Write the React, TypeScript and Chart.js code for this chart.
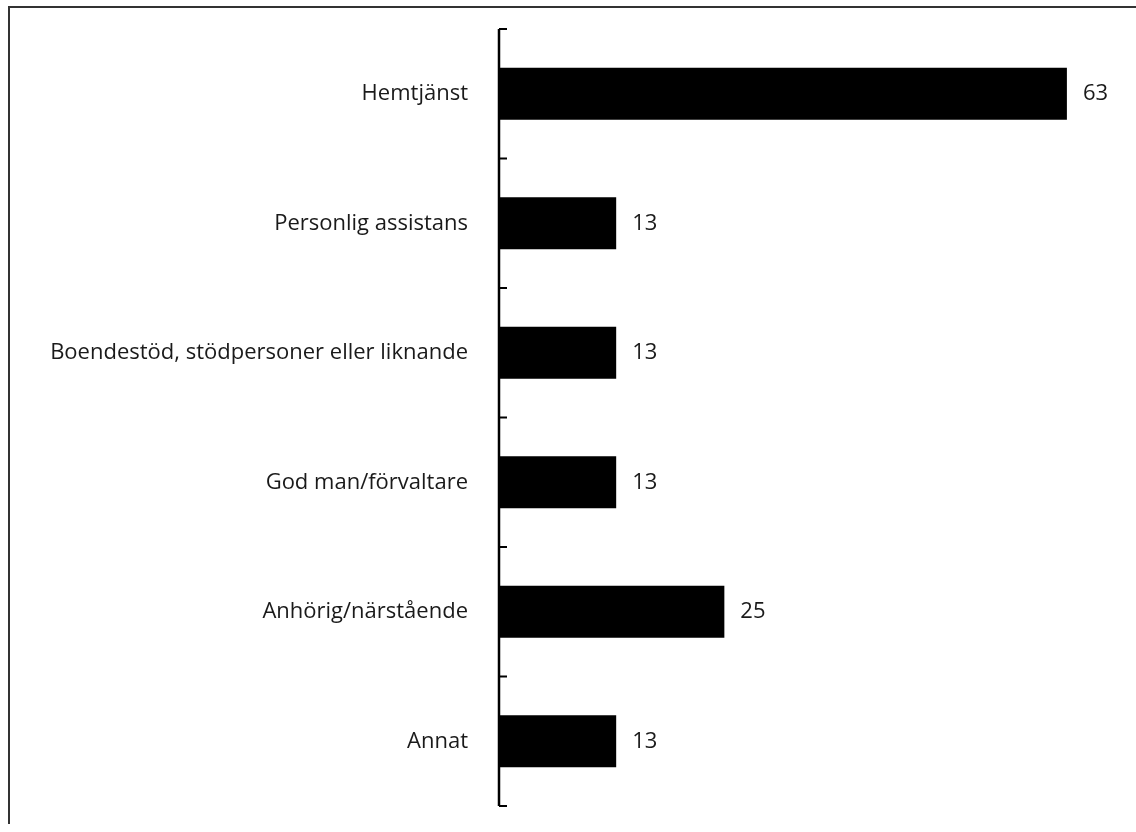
import React, { useEffect, useRef } from "react";
import { Chart, registerables } from "chart.js";

Chart.register(...registerables);

const categories = [
  "Hemtjänst",
  "Personlig assistans",
  "Boendestöd, stödpersoner eller liknande",
  "God man/förvaltare",
  "Anhörig/närstående",
  "Annat",
];
const values = [63, 13, 13, 13, 25, 13];
const xMin = 0;
const xMax = 70;

const FONT = "'Open Sans', 'Noto Sans', sans-serif";

const axisPlugin = {
  id: "customAxis",
  afterDraw(chart: any) {
    const ctx = chart.ctx;
    const y = chart.scales.y;
    const area = chart.chartArea;
    const n = categories.length;
    const step = n > 1 ? y.getPixelForValue(1) - y.getPixelForValue(0) : area.bottom - area.top;
    ctx.save();
    ctx.strokeStyle = "#000";
    ctx.lineWidth = 2.5;
    ctx.beginPath();
    ctx.moveTo(area.left, area.top);
    ctx.lineTo(area.left, area.bottom);
    ctx.stroke();
    ctx.lineWidth = 2;
    for (let i = 0; i <= n; i++) {
      const py = y.getPixelForValue(0) - step / 2 + i * step;
      ctx.beginPath();
      ctx.moveTo(area.left, py);
      ctx.lineTo(area.left + 8, py);
      ctx.stroke();
    }
    const meta = chart.getDatasetMeta(0);
    ctx.fillStyle = "#1a1a1a";
    ctx.font = `22px ${FONT}`;
    ctx.textAlign = "left";
    ctx.textBaseline = "middle";
    meta.data.forEach((el: any, i: number) => {
      ctx.fillText(String(values[i]), el.x + 16, el.y);
    });
    ctx.restore();
  },
};

export default function App() {
  const ref = useRef<HTMLCanvasElement | null>(null);
  useEffect(() => {
    if (!ref.current) return;
    const chart = new Chart(ref.current, {
      type: "bar",
      data: {
        labels: categories,
        datasets: [
          {
            data: values,
            backgroundColor: "#000",
            borderWidth: 0,
            barPercentage: 0.4,
            categoryPercentage: 1,
          },
        ],
      },
      options: {
        indexAxis: "y",
        animation: false,
        responsive: false,
        maintainAspectRatio: false,
        layout: { padding: { top: 21, bottom: 16, right: 6, left: 0 } },
        plugins: {
          legend: { display: false },
          tooltip: { enabled: false },
          title: { display: false },
        },
        scales: {
          x: {
            display: false,
            min: xMin,
            max: xMax,
          },
          y: {
            grid: { display: false, drawTicks: false },
            border: { display: false },
            ticks: {
              color: "#1a1a1a",
              font: { family: FONT, size: 22 },
              padding: 31,
            },
            afterFit(scale: any) {
              scale.width = 489;
              scale.paddingTop = 0;
              scale.paddingBottom = 0;
            },
          },
        },
      },
      plugins: [axisPlugin],
    });
    return () => chart.destroy();
  }, []);

  return (
    <div
      style={{
        position: "absolute",
        left: 8,
        top: 6,
        borderTop: "2px solid #333",
        borderLeft: "2px solid #333",
        width: 1126,
        height: 816,
        overflow: "hidden",
      }}
    >
      <canvas
        ref={ref}
        width={1126}
        height={814}
        style={{ display: "block", marginTop: 0 }}
      />
    </div>
  );
}
